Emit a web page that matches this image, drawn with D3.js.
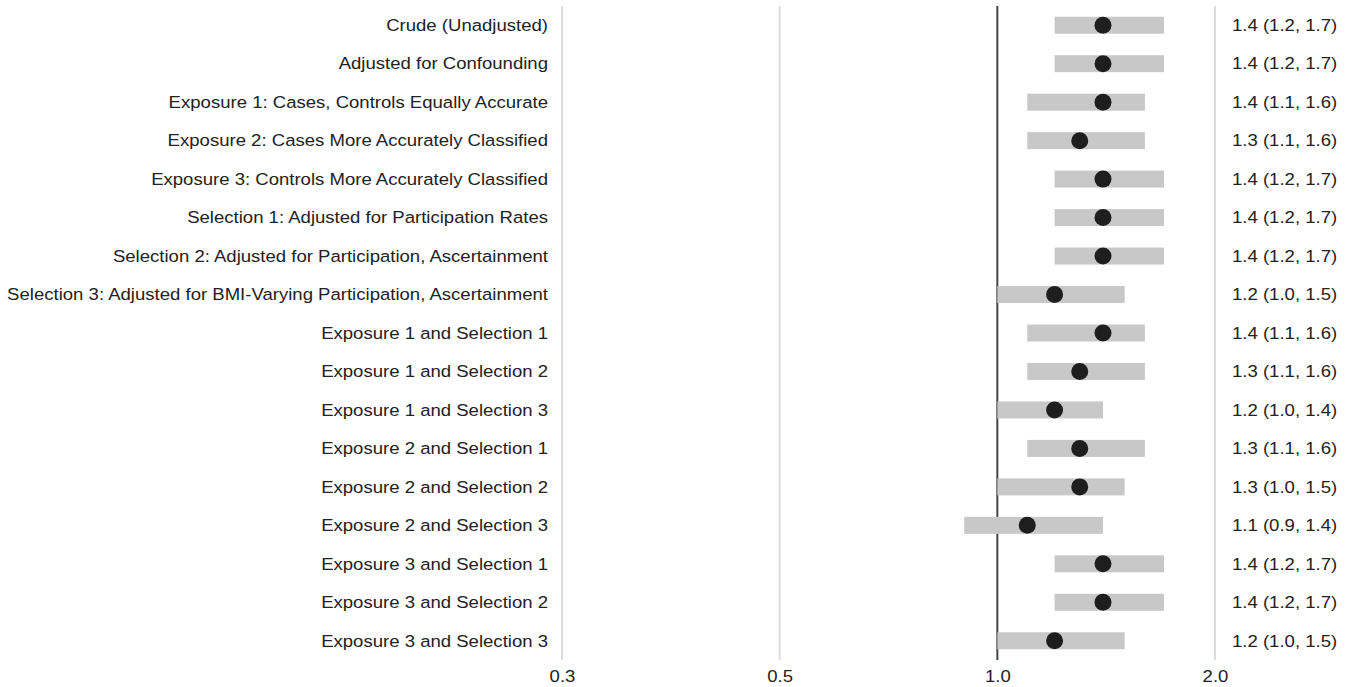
<!DOCTYPE html>
<html>
<head>
<meta charset="utf-8">
<script src="https://cdn.jsdelivr.net/npm/d3@7"></script>
<style>
  html, body { margin: 0; padding: 0; background: #fff; }
  svg text { font-family: "Liberation Sans", Arial, sans-serif; fill: #222; }
</style>
</head>
<body>
<div id="chart"></div>
<script>
// rows, top to bottom
const labels = [
  'Crude (Unadjusted)',
  'Adjusted for Confounding',
  'Exposure 1: Cases, Controls Equally Accurate',
  'Exposure 2: Cases More Accurately Classified',
  'Exposure 3: Controls More Accurately Classified',
  'Selection 1: Adjusted for Participation Rates',
  'Selection 2: Adjusted for Participation, Ascertainment',
  'Selection 3: Adjusted for BMI-Varying Participation, Ascertainment',
  'Exposure 1 and Selection 1',
  'Exposure 1 and Selection 2',
  'Exposure 1 and Selection 3',
  'Exposure 2 and Selection 1',
  'Exposure 2 and Selection 2',
  'Exposure 2 and Selection 3',
  'Exposure 3 and Selection 1',
  'Exposure 3 and Selection 2',
  'Exposure 3 and Selection 3'
];
const estimate = [1.4, 1.4, 1.4, 1.3, 1.4, 1.4, 1.4, 1.2, 1.4, 1.3, 1.2, 1.3, 1.3, 1.1, 1.4, 1.4, 1.2];
const lower    = [1.2, 1.2, 1.1, 1.1, 1.2, 1.2, 1.2, 1.0, 1.1, 1.1, 1.0, 1.1, 1.0, 0.9, 1.2, 1.2, 1.0];
const upper    = [1.7, 1.7, 1.6, 1.6, 1.7, 1.7, 1.7, 1.5, 1.6, 1.6, 1.4, 1.6, 1.5, 1.4, 1.7, 1.7, 1.5];
const tickValues = [0.25, 0.5, 1, 2];

const width = 1358, height = 687;
const fmt = d3.format('.1f');
const fontSize = 16.5;
const stretch = 'scale(1.125,1)'; // text in the source figure is a bit wide

const rows = labels.map((l, i) => ({ label: l, est: estimate[i], lo: lower[i], hi: upper[i] }));

const svg = d3.select('#chart').append('svg')
  .attr('width', width)
  .attr('height', height);

const x = d3.scaleLog().domain([0.25, 2]).range([562, 1215]);
const y = d3.scaleBand().domain(labels).range([6, 660]).paddingInner(0);
const mid = d => y(d) + y.bandwidth() / 2;

// grid lines
svg.append('g')
  .selectAll('line')
  .data(tickValues)
  .join('line')
  .attr('x1', d => x(d)).attr('x2', d => x(d))
  .attr('y1', 6).attr('y2', 660)
  .attr('stroke', d => d === 1 ? '#444' : '#dcdcdc')
  .attr('stroke-width', 2);

// x axis labels
const xAxis = d3.axisBottom(x).tickValues(tickValues).tickFormat(fmt).tickSize(0).tickPadding(0);
const gx = svg.append('g')
  .attr('transform', 'translate(0, 670)')
  .call(xAxis);
gx.select('.domain').remove();
gx.selectAll('text')
  .attr('font-size', fontSize)
  .attr('fill', '#222')
  .attr('font-family', '"Liberation Sans", Arial, sans-serif')
  .attr('transform', stretch);

// CI bars
svg.append('g')
  .selectAll('rect')
  .data(rows)
  .join('rect')
  .attr('x', d => x(d.lo))
  .attr('width', d => x(d.hi) - x(d.lo))
  .attr('y', d => mid(d.label) - 8.5)
  .attr('height', 17)
  .attr('fill', '#c8c8c8');

// point estimates
svg.append('g')
  .selectAll('circle')
  .data(rows)
  .join('circle')
  .attr('cx', d => x(d.est))
  .attr('cy', d => mid(d.label))
  .attr('r', 8.5)
  .attr('fill', '#1e1e1e');

// left labels
svg.append('g')
  .attr('transform', 'translate(548,0) ' + stretch)
  .selectAll('text')
  .data(rows)
  .join('text')
  .attr('x', 0)
  .attr('y', d => mid(d.label))
  .attr('dy', '0.35em')
  .attr('text-anchor', 'end')
  .attr('font-size', fontSize)
  .text(d => d.label);

// right labels
svg.append('g')
  .attr('transform', 'translate(1232,0) ' + stretch)
  .selectAll('text')
  .data(rows)
  .join('text')
  .attr('x', 0)
  .attr('y', d => mid(d.label))
  .attr('dy', '0.35em')
  .attr('font-size', fontSize)
  .text(d => `${fmt(d.est)} (${fmt(d.lo)}, ${fmt(d.hi)})`);
</script>
</body>
</html>
